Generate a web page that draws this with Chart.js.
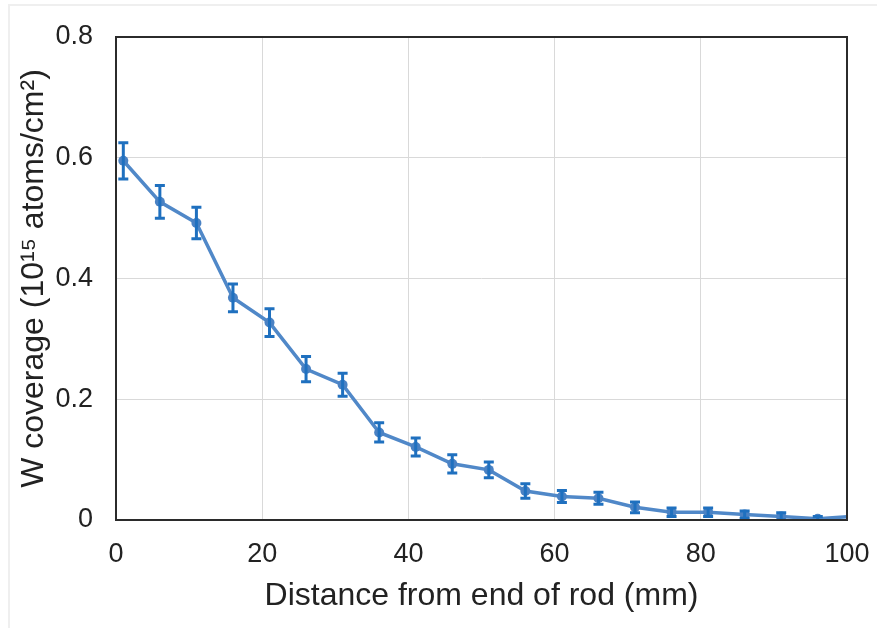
<!DOCTYPE html>
<html>
<head>
<meta charset="utf-8">
<script src="https://cdn.jsdelivr.net/npm/chart.js@4/dist/chart.umd.min.js"></script>
<style>
    html, body { margin: 0; padding: 0; background: #fff; }
    #wrap { position: relative; width: 877px; height: 628px; overflow: hidden; }
    #frame { position: absolute; left: 8px; top: 4px; right: 0; bottom: 0;
             border-top: 2px solid #efefef; border-left: 2px solid #efefef; }
    #coverageChart { position: absolute; left: 0; top: 0; }
</style>
</head>
<body>
<div id="wrap">
    <div id="frame"></div>
    <canvas id="coverageChart" width="877" height="628"></canvas>
</div>
<script>
// 측정값 (거리 mm, W 피복량, 오차)
const distances = [1, 6, 11, 16, 21, 26, 31, 36, 41, 46, 51, 56, 61, 66, 71, 76, 81, 86, 91, 96, 101];
const coverage = [0.595, 0.527, 0.492, 0.368, 0.327, 0.250, 0.224, 0.145, 0.121, 0.093, 0.083,
                  0.048, 0.039, 0.036, 0.021, 0.013, 0.013, 0.009, 0.006, 0.002, 0.006];
const errors = [0.030, 0.027, 0.026, 0.023, 0.023, 0.021, 0.019, 0.016, 0.015, 0.015, 0.013,
                0.012, 0.010, 0.010, 0.009, 0.007, 0.007, 0.006, 0.006, 0.004, 0.004];
const xTicks = [0, 20, 40, 60, 80, 100];
const yTicks = [0, 0.2, 0.4, 0.6, 0.8];

const points = distances.map((d, i) => ({ x: d, y: coverage[i] }));

// 오차 막대 + 플롯 테두리
const errorBars = {
    id: 'errorBars',
    afterDatasetsDraw(chart) {
        const { ctx, chartArea, scales: { x, y } } = chart;
        ctx.save();
        ctx.beginPath();
        ctx.rect(chartArea.left, chartArea.top, chartArea.width, chartArea.height);
        ctx.clip();
        ctx.strokeStyle = '#1f70bf';
        ctx.lineWidth = 3;
        distances.forEach((d, i) => {
            const px = x.getPixelForValue(d);
            const top = y.getPixelForValue(coverage[i] + errors[i]);
            const bot = y.getPixelForValue(coverage[i] - errors[i]);
            ctx.beginPath();
            ctx.moveTo(px, top); ctx.lineTo(px, bot);
            ctx.moveTo(px - 5, top); ctx.lineTo(px + 5, top);
            ctx.moveTo(px - 5, bot); ctx.lineTo(px + 5, bot);
            ctx.stroke();
        });
        ctx.restore();
    },
    afterDraw(chart) {
        const { ctx, chartArea } = chart;
        ctx.save();
        ctx.strokeStyle = '#2b2b2b';
        ctx.lineWidth = 2;
        ctx.strokeRect(chartArea.left, chartArea.top, chartArea.width, chartArea.height);
        ctx.restore();
    }
};

const tickFont = { family: '"Liberation Sans", Arial, sans-serif', size: 27 };
const titleFont = { family: '"Liberation Sans", Arial, sans-serif', size: 32 };

new Chart(document.getElementById('coverageChart').getContext('2d'), {
    type: 'scatter',
    data: {
        datasets: [{
            data: points,
            showLine: true,
            borderColor: '#5088c8',
            backgroundColor: '#4a82c4',
            borderWidth: 3.5,
            pointRadius: 5,
            pointBorderWidth: 0,
            clip: 0
        }]
    },
    options: {
        responsive: false,
        animation: false,
        layout: { padding: { top: 37, right: 30, left: 0, bottom: 0 } },
        scales: {
            x: {
                type: 'linear',
                min: 0,
                max: 100,
                afterBuildTicks: (scale) => { scale.ticks = xTicks.map(v => ({ value: v })); },
                afterFit: (scale) => {
                    scale.height = 108;
                    scale.paddingLeft = 0;
                    scale.paddingRight = 0;
                },
                ticks: { font: tickFont, color: '#222', padding: 18, maxRotation: 0 },
                grid: { color: '#d9d9d9', lineWidth: 1, drawTicks: false },
                border: { display: false },
                title: {
                    display: true,
                    text: 'Distance from end of rod (mm)',
                    font: titleFont,
                    color: '#222',
                    padding: { top: 0, bottom: 13 }
                }
            },
            y: {
                min: 0,
                max: 0.8,
                afterBuildTicks: (scale) => { scale.ticks = yTicks.map(v => ({ value: v })); },
                afterFit: (scale) => {
                    scale.width = 116;
                    scale.paddingTop = 0;
                    scale.paddingBottom = 0;
                },
                ticks: { font: tickFont, color: '#222', padding: 23 },
                grid: { color: '#d9d9d9', lineWidth: 1, drawTicks: false },
                border: { display: false },
                title: {
                    display: true,
                    text: 'W coverage (10¹⁵ atoms/cm²)',
                    font: titleFont,
                    color: '#222',
                    padding: { top: 15, bottom: 0 }
                }
            }
        },
        plugins: {
            legend: { display: false },
            tooltip: { enabled: false }
        }
    },
    plugins: [errorBars]
});
</script>
</body>
</html>
